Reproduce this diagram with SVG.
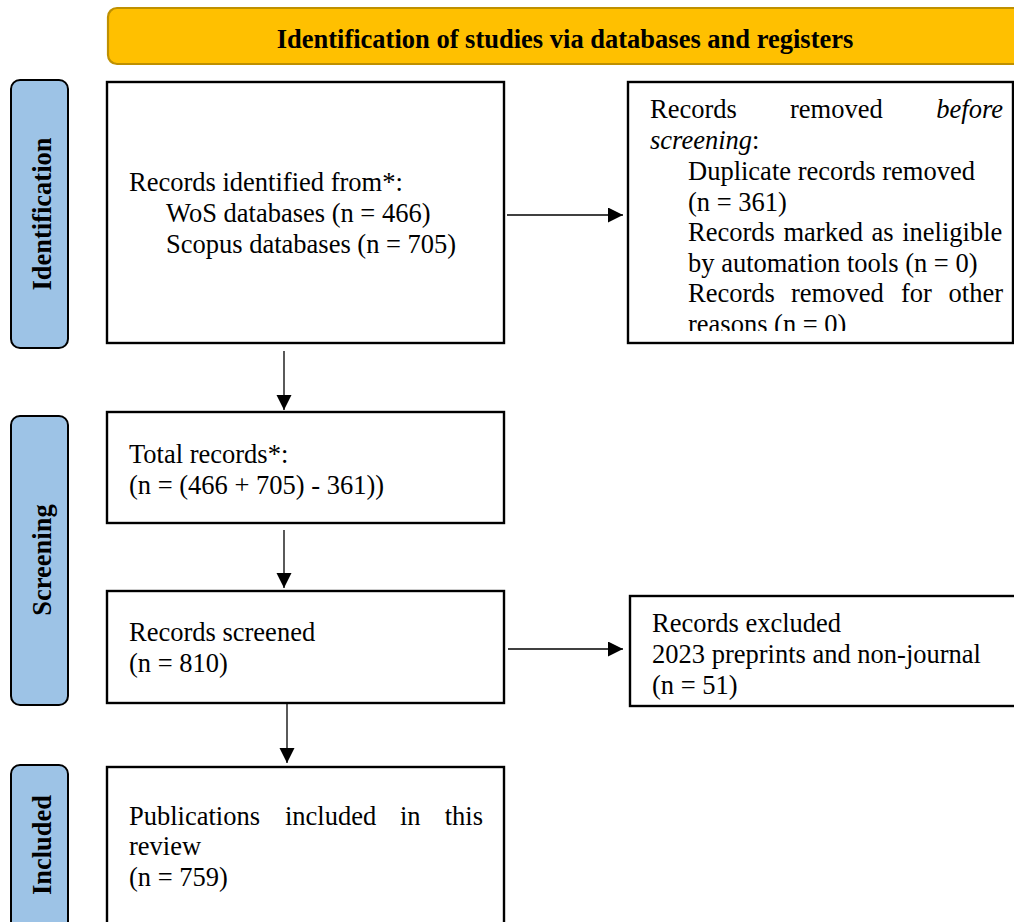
<svg xmlns="http://www.w3.org/2000/svg" width="1014" height="922" viewBox="0 0 1014 922">
  <style>
    text { font-family: "Liberation Serif", "Times New Roman", serif; font-size: 26.5px; fill: #000; }
    .bold { font-weight: bold; }
    .box { fill: #fff; stroke: #000; stroke-width: 2.4; }
    .phase { fill: #9DC3E6; stroke: #000; stroke-width: 2; }
    .banner { fill: #FFC000; stroke: #BF9000; stroke-width: 2.2; }
    .conn { stroke: #000; stroke-width: 1.3; fill: none; marker-end: url(#head); }
  </style>
  <defs>
    <marker id="head" markerUnits="userSpaceOnUse" markerWidth="16" markerHeight="16" refX="15" refY="7.5" orient="auto">
      <path d="M0,0 L15,7.5 L0,15 Z" fill="#000"/>
    </marker>
    <clipPath id="removedClip">
      <rect x="630" y="84" width="383" height="247"/>
    </clipPath>
  </defs>

  <rect width="1014" height="922" fill="#fff"/>

  <!-- header banner -->
  <g id="banner">
    <rect class="banner" x="108" y="8" width="930" height="56" rx="9"/>
    <text class="bold" x="565" y="48" text-anchor="middle">Identification of studies via databases and registers</text>
  </g>

  <!-- phase labels -->
  <g id="phase-identification">
    <rect class="phase" x="11" y="80" width="57" height="268" rx="9"/>
    <text class="bold" transform="translate(51,214) rotate(-90)" text-anchor="middle">Identification</text>
  </g>
  <g id="phase-screening">
    <rect class="phase" x="11" y="416" width="57" height="289" rx="9"/>
    <text class="bold" transform="translate(51,560) rotate(-90)" text-anchor="middle">Screening</text>
  </g>
  <g id="phase-included">
    <rect class="phase" x="11" y="765" width="57" height="175" rx="9"/>
    <text class="bold" transform="translate(51,845) rotate(-90)" text-anchor="middle">Included</text>
  </g>

  <!-- records identified -->
  <g id="identified">
    <rect class="box" x="107" y="82" width="397" height="261"/>
    <text x="129" y="191">Records identified from*:</text>
    <text x="166" y="222">WoS databases (n = 466)</text>
    <text x="166" y="253">Scopus databases (n = 705)</text>
  </g>

  <!-- records removed before screening -->
  <g id="removed">
    <rect class="box" x="628" y="82" width="385" height="261"/>
    <g clip-path="url(#removedClip)">
      <text y="118"><tspan x="650">Records</tspan><tspan x="790">removed</tspan><tspan x="1003" text-anchor="end" font-style="italic">before</tspan></text>
      <text y="149"><tspan x="650" font-style="italic">screening</tspan><tspan>:</tspan></text>
      <text x="688" y="180">Duplicate records removed</text>
      <text x="688" y="211">(n = 361)</text>
      <text x="688" y="241" word-spacing="2">Records marked as ineligible</text>
      <text x="688" y="272">by automation tools (n = 0)</text>
      <text y="302"><tspan x="688">Records</tspan><tspan x="791">removed</tspan><tspan x="901">for</tspan><tspan x="1003" text-anchor="end">other</tspan></text>
      <text x="688" y="333">reasons (n = 0)</text>
    </g>
  </g>

  <!-- total records -->
  <g id="total">
    <rect class="box" x="107" y="412" width="397" height="111"/>
    <text x="129" y="463">Total records*:</text>
    <text x="129" y="494">(n = (466 + 705) - 361))</text>
  </g>

  <!-- records screened -->
  <g id="screened">
    <rect class="box" x="107" y="591" width="397" height="112"/>
    <text x="129" y="641">Records screened</text>
    <text x="129" y="672">(n = 810)</text>
  </g>

  <!-- records excluded -->
  <g id="excluded">
    <rect class="box" x="630" y="596" width="400" height="110"/>
    <text x="652" y="632">Records excluded</text>
    <text x="652" y="663">2023 preprints and non-journal</text>
    <text x="652" y="694">(n = 51)</text>
  </g>

  <!-- publications included -->
  <g id="included">
    <rect class="box" x="107" y="767" width="397" height="170"/>
    <text y="825"><tspan x="129">Publications</tspan><tspan x="285">included</tspan><tspan x="400">in</tspan><tspan x="483" text-anchor="end">this</tspan></text>
    <text x="129" y="855">review</text>
    <text x="129" y="886">(n = 759)</text>
  </g>

  <!-- connectors -->
  <g id="connectors">
    <line class="conn" x1="507" y1="215" x2="623" y2="215"/>
    <line class="conn" x1="284" y1="351" x2="284" y2="410"/>
    <line class="conn" x1="284" y1="530" x2="284" y2="588"/>
    <line class="conn" x1="508" y1="649" x2="623" y2="649"/>
    <line class="conn" x1="287" y1="704" x2="287" y2="763"/>
  </g>
</svg>
